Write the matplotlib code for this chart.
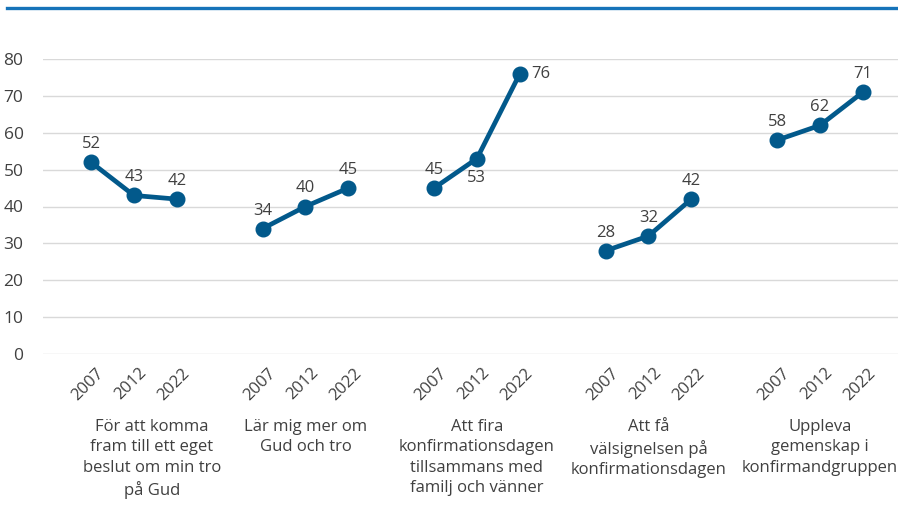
import numpy as np
import matplotlib.pyplot as plt
from matplotlib.lines import Line2D
from matplotlib.transforms import ScaledTranslation

plt.rcParams['font.family'] = ['Open Sans', 'DejaVu Sans']

# %% data
years = ['2007', '2012', '2022']
groups = [
    'För att komma\nfram till ett eget\nbeslut om min tro\npå Gud',
    'Lär mig mer om\nGud och tro',
    'Att fira\nkonfirmationsdagen\ntillsammans med\nfamilj och vänner',
    'Att få\nvälsignelsen på\nkonfirmationsdagen',
    'Uppleva\ngemenskap i\nkonfirmandgruppen',
]
values = [
    [52, 43, 42],
    [34, 40, 45],
    [45, 53, 76],
    [28, 32, 42],
    [58, 62, 71],
]
yticks = [0, 10, 20, 30, 40, 50, 60, 70, 80]

# %% style
line_color = '#02598b'
text_color = '#404040'
grid_color = '#d9d9d9'
top_color = '#1673b9'
fs = 12

fig = plt.figure(figsize=(8.98, 5.18), dpi=100)
ax = fig.add_axes([43/898, 1 - 354/518, 1 - 43/898, (354 - 59)/518])

xpos_all = []
for g, vals in enumerate(values):
    xs = np.arange(len(vals)) + g * 4
    xpos_all.extend(xs)
    ax.plot(xs, vals, color=line_color, lw=3.4, marker='o', ms=10.5,
            solid_capstyle='round', zorder=3, clip_on=False)
    for i, (x, v) in enumerate(zip(xs, vals)):
        if v == 76:
            off, ha, va = (11, 0), 'left', 'center'
        elif v == 53 and g == 2:
            off, ha, va = (0, -11), 'center', 'top'
        else:
            off, ha, va = (0, 10), 'center', 'bottom'
        ax.annotate(str(v), (x, v), xytext=off, textcoords='offset pixels',
                    ha=ha, va=va, fontsize=fs, color=text_color)

# group labels under the middle year
label_shift = [0.42, 0, 0, 0, 0]
for g, name in enumerate(groups):
    ax.annotate(name, (g * 4 + 1 + label_shift[g], 0), xytext=(0, -65),
                textcoords='offset pixels', ha='center', va='top',
                fontsize=fs, color=text_color, linespacing=1.36,
                annotation_clip=False)

ax.set_xlim(-1.12, 18.82)
ax.set_ylim(0, 80)
ax.set_yticks(yticks)
ax.set_xticks(xpos_all)
ax.set_xticklabels(years * len(groups))
ax.tick_params(axis='both', length=0, labelsize=fs, labelcolor=text_color)
ax.tick_params(axis='y', pad=14, labelsize=12.5)
ax.tick_params(axis='x', pad=8)
for lab in ax.get_xticklabels():
    lab.set_rotation(45)
    lab.set_ha('right')
    lab.set_va('top')
    lab.set_rotation_mode('anchor')
    lab.set_transform(lab.get_transform() + ScaledTranslation(0.05, 0, fig.dpi_scale_trans))

ax.grid(axis='y', color=grid_color, lw=1)
ax.set_axisbelow(True)
for s in ax.spines.values():
    s.set_visible(False)

# top rule
fig.add_artist(Line2D([7/898, 1], [1 - 7.5/518] * 2, color=top_color, lw=2.4,
                      transform=fig.transFigure))

fig.savefig('out.png', dpi=100)
